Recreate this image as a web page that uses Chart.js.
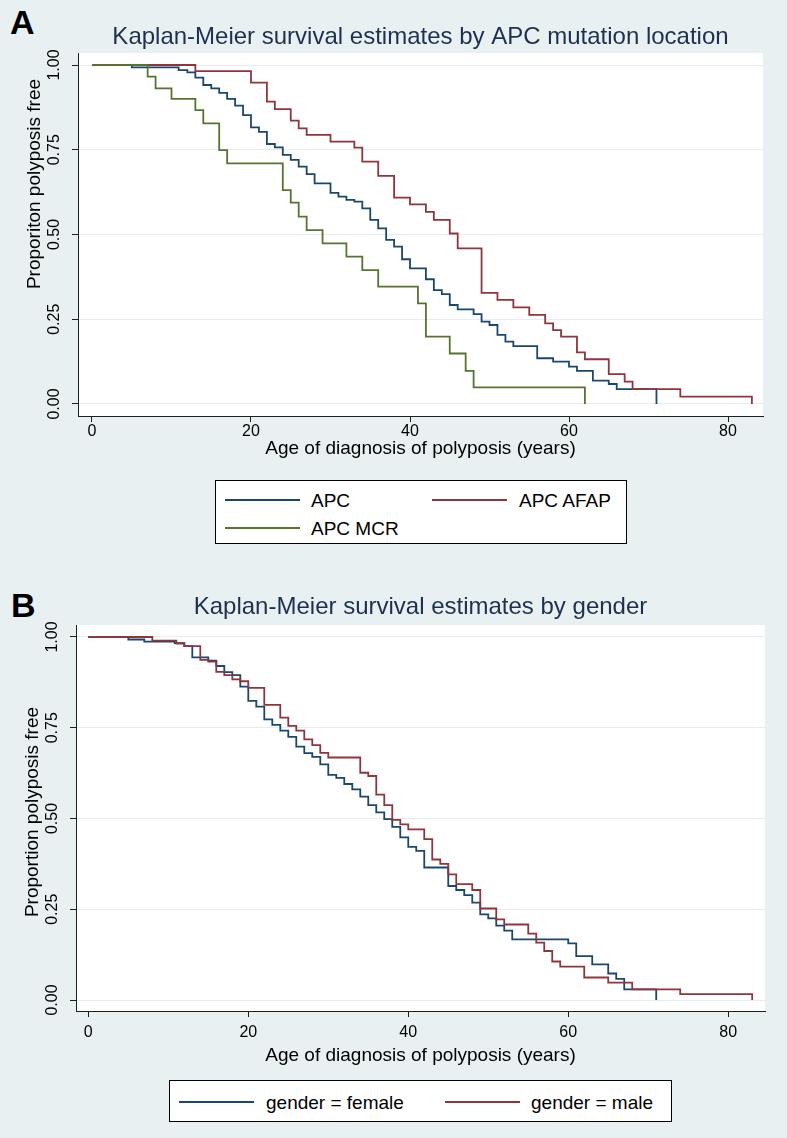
<!DOCTYPE html>
<html>
<head>
<meta charset="utf-8">
<script src="https://cdn.jsdelivr.net/npm/chart.js@4/dist/chart.umd.min.js"></script>
<style>
  html, body { margin:0; padding:0; }
  body { width:787px; height:1138px; position:relative; overflow:hidden; background:#e9f0f2; font-family:"Liberation Sans", Arial, sans-serif; }
  .panel { position:absolute; left:0; width:787px; }
  .tag { position:absolute; font-weight:bold; font-size:34px; color:#000; line-height:1; }
  .legend { position:absolute; background:#fff; border:1px solid #000; box-sizing:border-box; }
  .sw { position:absolute; height:0; border-top:2px solid; width:75px; }
  .lt { position:absolute; font-size:19px; color:#000; line-height:1; white-space:nowrap; transform:translateY(-50%); }
</style>
</head>
<body>
<div class="tag" style="left:10px;top:5px;">A</div>
<div class="panel" style="top:0;height:464px;"><canvas id="c1"></canvas></div>
<div class="legend" style="left:215px;top:480px;width:412px;height:64px;">
  <div class="sw" style="left:9px;top:18px;border-color:#1a476f;"></div>
  <div class="lt" style="left:95px;top:19px;">APC</div>
  <div class="sw" style="left:216px;top:18px;border-color:#90353b;"></div>
  <div class="lt" style="left:303px;top:19px;">APC AFAP</div>
  <div class="sw" style="left:9px;top:46px;border-color:#55752f;"></div>
  <div class="lt" style="left:95px;top:47px;">APC MCR</div>
</div>
<div class="tag" style="left:11px;top:588px;">B</div>
<div class="panel" style="top:560px;height:510px;"><canvas id="c2"></canvas></div>
<div class="legend" style="left:169px;top:1080px;width:503px;height:42px;">
  <div class="sw" style="left:9px;top:20px;border-color:#1a476f;"></div>
  <div class="lt" style="left:96px;top:21px;">gender = female</div>
  <div class="sw" style="left:275px;top:20px;border-color:#90353b;"></div>
  <div class="lt" style="left:361px;top:21px;">gender = male</div>
</div>
<script>
// ---------- Data ----------
const xTicks = [0, 20, 40, 60, 80];
const yTicks = [0, 0.25, 0.5, 0.75, 1];

// Panel A: APC mutation location
const apcTimes = [0, 5, 10.9, 12, 13, 14, 15, 16, 17, 18, 19, 20, 21, 22, 23, 24, 25, 26, 27, 28, 30, 31, 32, 33, 34, 35, 36, 37, 38, 39, 40, 42, 43, 44, 45, 46, 48, 49, 50, 51, 52, 53, 56, 58, 60, 61, 63, 65, 66, 71];
const apcSurv  = [1, 0.993, 0.985, 0.978, 0.963, 0.941, 0.931, 0.918, 0.9, 0.88, 0.852, 0.816, 0.803, 0.767, 0.757, 0.735, 0.72, 0.7, 0.678, 0.651, 0.623, 0.612, 0.602, 0.597, 0.577, 0.543, 0.518, 0.484, 0.464, 0.427, 0.4, 0.368, 0.336, 0.324, 0.292, 0.279, 0.265, 0.243, 0.233, 0.204, 0.184, 0.171, 0.135, 0.125, 0.11, 0.098, 0.069, 0.059, 0.044, 0];

const afapTimes = [0, 13, 20, 22, 23, 25, 26, 27, 30, 33, 34, 36, 38, 40, 42, 43, 45, 46, 49, 51, 53, 55, 57, 58, 59, 61, 62, 65, 67, 68, 74, 83];
const afapSurv  = [1, 0.982, 0.948, 0.892, 0.87, 0.836, 0.813, 0.794, 0.774, 0.756, 0.715, 0.673, 0.609, 0.589, 0.567, 0.543, 0.503, 0.459, 0.328, 0.307, 0.285, 0.263, 0.238, 0.218, 0.199, 0.152, 0.132, 0.088, 0.066, 0.044, 0.022, 0];

const mcrTimes = [0, 7, 8, 10, 13, 14, 16, 17, 24, 25, 26, 27, 29, 32, 34, 36, 41, 42, 45, 47, 48, 62];
const mcrSurv  = [1, 0.966, 0.931, 0.9, 0.867, 0.828, 0.749, 0.71, 0.631, 0.594, 0.553, 0.513, 0.474, 0.435, 0.395, 0.346, 0.297, 0.199, 0.149, 0.098, 0.049, 0];

// Panel B: gender
const femaleTimes = [0, 5, 7, 10.8, 12, 13, 15, 16, 17, 18, 19, 20, 21, 22, 23, 24, 25, 26, 27, 28, 29, 30, 31, 32, 33, 34, 35, 36, 37, 38, 39, 40, 41, 42, 45, 46, 47, 48, 49, 50, 51, 52, 53, 60, 61, 63, 65, 66, 67, 71];
const femaleSurv  = [1, 0.993, 0.987, 0.983, 0.975, 0.944, 0.935, 0.92, 0.903, 0.895, 0.863, 0.824, 0.808, 0.773, 0.758, 0.742, 0.725, 0.698, 0.68, 0.67, 0.649, 0.62, 0.612, 0.595, 0.58, 0.56, 0.537, 0.517, 0.498, 0.477, 0.448, 0.422, 0.411, 0.365, 0.314, 0.303, 0.289, 0.268, 0.236, 0.225, 0.205, 0.191, 0.167, 0.156, 0.121, 0.098, 0.073, 0.058, 0.029, 0];

const maleTimes = [0, 8, 11, 12, 14, 15, 16, 17, 18, 19, 20, 22, 24, 25, 26, 27, 28, 29, 30, 34, 35, 36, 37, 38, 39, 40, 42, 43, 44, 45, 46, 48, 49, 51, 52, 55, 56, 57, 58, 59, 62, 65, 68, 74, 83];
const maleSurv  = [1, 0.99, 0.982, 0.975, 0.937, 0.932, 0.904, 0.895, 0.883, 0.878, 0.86, 0.813, 0.778, 0.755, 0.742, 0.718, 0.702, 0.681, 0.668, 0.626, 0.617, 0.566, 0.537, 0.496, 0.484, 0.47, 0.443, 0.387, 0.375, 0.346, 0.319, 0.303, 0.252, 0.222, 0.208, 0.183, 0.158, 0.135, 0.106, 0.092, 0.062, 0.048, 0.029, 0.016, 0];

// ---------- Helpers ----------
const FONT = '"Liberation Sans", Arial, sans-serif';
const AXIS = '#1f1f1f';
const GRID = '#e6edf0';
const pts = (t, s) => t.map((x, i) => ({ x, y: s[i] }));

const plotBg = {
  id: 'plotBg',
  beforeDraw(chart) {
    const { ctx, chartArea: a } = chart;
    ctx.save();
    ctx.fillStyle = '#ffffff';
    ctx.fillRect(a.left, a.top, a.right - a.left, a.bottom - a.top);
    ctx.restore();
  }
};
const yTitle = {
  id: 'yTitle',
  afterDraw(chart, args, o) {
    const { ctx, chartArea: a } = chart;
    ctx.save();
    ctx.translate(a.left + o.dx, a.top + o.dy);
    ctx.rotate(-Math.PI / 2);
    ctx.font = o.size + 'px ' + FONT;
    ctx.fillStyle = '#000';
    ctx.textAlign = 'center';
    ctx.textBaseline = 'middle';
    ctx.fillText(o.text, 0, 0);
    ctx.restore();
  }
};

function line(label, t, s, color, order) {
  return { label, data: pts(t, s), borderColor: color, backgroundColor: color, borderWidth: 1.8,
           pointRadius: 0, stepped: true, fill: false, order };
}

function makeChart(id, title, yLabel, datasets, g) {
  return new Chart(document.getElementById(id), {
    type: 'line',
    data: { datasets },
    plugins: [plotBg, yTitle],
    options: {
      responsive: true, maintainAspectRatio: false, animation: false,
      layout: { padding: { left: 0, right: g.padRight, top: 0, bottom: 0 } },
      plugins: {
        legend: { display: false },
        tooltip: { enabled: false },
        title: { display: true, text: title, fullSize: false, color: '#1c3150',
                 font: { family: FONT, size: 24, weight: 'normal' },
                 padding: { top: g.titleTop, bottom: g.titleBottom } },
        yTitle: { text: yLabel, dx: g.yTitleDx, dy: g.yTitleDy, size: 19 }
      },
      scales: {
        x: {
          type: 'linear', min: g.xMin, max: g.xMax,
          afterBuildTicks: s => { s.ticks = xTicks.map(v => ({ value: v })); },
          afterFit: s => { s.height = g.xAxisH; },
          ticks: { color: '#000', font: { family: FONT, size: 16 }, padding: g.xTickPad, maxRotation: 0, autoSkip: false },
          grid: { drawOnChartArea: false, drawTicks: true, tickLength: 6, tickColor: AXIS, tickWidth: 1 },
          border: { display: true, color: AXIS, width: 1 },
          title: { display: true, text: 'Age of diagnosis of polyposis (years)', color: '#000',
                   font: { family: FONT, size: 19 }, padding: { top: 0, bottom: g.xTitlePad } }
        },
        y: {
          type: 'linear', min: g.yMin, max: g.yMax,
          afterBuildTicks: s => { s.ticks = yTicks.map(v => ({ value: v })); },
          afterFit: s => { s.width = g.yAxisW; },
          ticks: { color: '#000', font: { family: FONT, size: 16 }, minRotation: 90, maxRotation: 90,
                   crossAlign: 'center', padding: 2, autoSkip: false, callback: v => Number(v).toFixed(2) },
          grid: { color: GRID, lineWidth: 1, drawTicks: true, tickLength: 6, tickColor: AXIS, tickWidth: 1 },
          border: { display: true, color: AXIS, width: 1 }
        }
      }
    }
  });
}

makeChart('c1', 'Kaplan-Meier survival estimates by APC mutation location', 'Proporiton polyposis free', [
  line('APC', apcTimes, apcSurv, '#1a476f', 2),
  line('APC AFAP', afapTimes, afapSurv, '#90353b', 1),
  line('APC MCR', mcrTimes, mcrSurv, '#55752f', 0)
], { padRight: 24, titleTop: 22.6, titleBottom: 1.6, xMin: -1.76, xMax: 84.4, yMin: -0.0354, yMax: 1.0354,
     xAxisH: 48, yAxisW: 78, xTickPad: 0, xTitlePad: 4, yTitleDx: -43, yTitleDy: 131 });

makeChart('c2', 'Kaplan-Meier survival estimates by gender', 'Proportion polyposis free', [
  line('gender = female', femaleTimes, femaleSurv, '#1a476f', 1),
  line('gender = male', maleTimes, maleSurv, '#90353b', 0)
], { padRight: 22, titleTop: 32.6, titleBottom: 3.6, xMin: -1.54, xMax: 84.6, yMin: -0.0303, yMax: 1.033,
     xAxisH: 59, yAxisW: 76, xTickPad: 6, xTitlePad: 3, yTitleDx: -43, yTitleDy: 187 });
</script>
</body>
</html>
